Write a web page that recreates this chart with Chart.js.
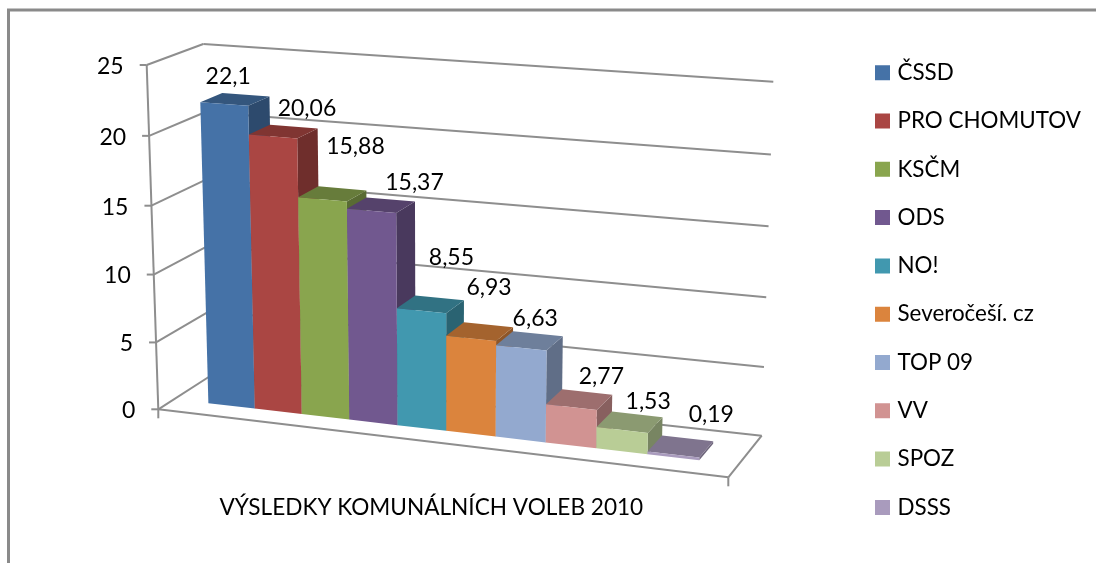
<!DOCTYPE html>
<html>
<head>
<meta charset="utf-8">
<title>Výsledky komunálních voleb 2010</title>
<script src="https://cdn.jsdelivr.net/npm/chart.js@4/dist/chart.umd.min.js"></script>
<style>
    html, body { margin: 0; padding: 0; background: #fff; }
    canvas { display: block; }
</style>
</head>
<body>
<canvas id="chart" width="1096" height="563"></canvas>
<script>
    'use strict';

    // Data
    var categories = ['VÝSLEDKY KOMUNÁLNÍCH VOLEB 2010'];
    var parties = ['ČSSD', 'PRO CHOMUTOV', 'KSČM', 'ODS', 'NO!', 'Severočeší. cz', 'TOP 09', 'VV', 'SPOZ', 'DSSS'];
    var partyValues = [22.1, 20.06, 15.88, 15.37, 8.55, 6.93, 6.63, 2.77, 1.53, 0.19];
    var partyColors = ['#4572A7', '#AA4643', '#89A54E', '#71588F', '#4198AF', '#DB843D', '#93A9CF', '#D19392', '#B9CD96', '#A99BBD'];
    var yAxisMax = 25;
    var yAxisStep = 5;

    // Hand placed value labels, relative to the top front edge of each bar
    var labelNudges = [[4, -27], [34, -28], [33, -53], [43, -28], [30, -53], [18, -51], [14, -29], [30, -30], [26, -28], [38, -40]];

    var FONT = 'Lato, sans-serif';
    var LINE_COLOR = '#8e8e8e';

    // Corners of the 3D box as Excel projected it: floor and ceiling, front and back
    var CAGE = {
        frontLeft: [[158.3, 409.3], [146.7, 65]],
        frontRight: [[728.3, 477.3], [738, 109]],
        backLeft: [[211, 375.5], [203.3, 44]],
        backRight: [[761.7, 435.7], [773.3, 81.7]]
    };
    var BAR_FRONT = 0.3;
    var BAR_BACK = 0.7;
    var WARP_U = 0.07;
    var WARP_V = 0.036;

    function lerp(a, b, t) {
        return [a[0] + (b[0] - a[0]) * t, a[1] + (b[1] - a[1]) * t];
    }

    /**
     * Map a position inside the box (each 0..1) to the page
     */
    function project(u, v, w) {
        var uu = u - WARP_U * u * (1 - u);
        var vv = v - WARP_V * v * (1 - v);
        var fl = lerp(CAGE.frontLeft[0], CAGE.frontLeft[1], vv);
        var fr = lerp(CAGE.frontRight[0], CAGE.frontRight[1], vv);
        var bl = lerp(CAGE.backLeft[0], CAGE.backLeft[1], vv);
        var br = lerp(CAGE.backRight[0], CAGE.backRight[1], vv);
        return lerp(lerp(fl, fr, uu), lerp(bl, br, uu), w);
    }

    function shade(hex, factor) {
        var n = parseInt(hex.slice(1), 16);
        var r = Math.round((n >> 16 & 255) * factor);
        var g = Math.round((n >> 8 & 255) * factor);
        var b = Math.round((n & 255) * factor);
        return 'rgb(' + r + ',' + g + ',' + b + ')';
    }

    function polygon(ctx, points, fill) {
        ctx.beginPath();
        ctx.moveTo(points[0][0], points[0][1]);
        for (var i = 1; i < points.length; i++) {
            ctx.lineTo(points[i][0], points[i][1]);
        }
        ctx.closePath();
        ctx.fillStyle = fill;
        ctx.fill();
    }

    function line(ctx, a, b) {
        ctx.beginPath();
        ctx.moveTo(a[0], a[1]);
        ctx.lineTo(b[0], b[1]);
        ctx.stroke();
    }

    /**
     * Outer frame, only the top and left sides show in the picture
     */
    function drawFrame(ctx) {
        ctx.strokeStyle = '#8a8a8a';
        ctx.lineWidth = 3;
        ctx.beginPath();
        ctx.moveTo(8.5, 563);
        ctx.lineTo(8.5, 10);
        ctx.lineTo(1096, 10);
        ctx.stroke();
    }

    /**
     * Gridlines, floor, ticks and axis labels
     */
    function drawCage(chart) {
        var ctx = chart.ctx;
        var yScale = chart.scales.y;
        var xScale = chart.scales.x;
        var area = chart.chartArea;

        ctx.strokeStyle = LINE_COLOR;
        ctx.lineWidth = 2;
        ctx.font = '23px ' + FONT;
        ctx.fillStyle = '#000';
        ctx.textAlign = 'right';
        ctx.textBaseline = 'middle';

        yScale.ticks.forEach(function(tick) {
            var v = (area.bottom - yScale.getPixelForValue(tick.value)) / area.height;
            var front = project(0, v, 0);
            var back = project(0, v, 1);
            line(ctx, front, back);
            line(ctx, back, project(1, v, 1));
            line(ctx, [front[0] - 7, front[1]], front);
            ctx.fillText(tick.label, front[0] - 23, front[1] + 1.5);
        });

        // Left axis, floor front edge and right floor edge
        line(ctx, project(0, 0, 0), CAGE.frontLeft[1]);
        line(ctx, project(0, 0, 0), project(1, 0, 0));
        line(ctx, project(1, 0, 0), project(1, 0, 1));
        line(ctx, project(0, 0, 0), [CAGE.frontLeft[0][0], CAGE.frontLeft[0][1] + 9]);
        line(ctx, project(1, 0, 0), [CAGE.frontRight[0][0], CAGE.frontRight[0][1] + 9]);

        // Category label
        var mid = project((xScale.getPixelForValue(0) - area.left) / area.width, 0, 0);
        ctx.font = '22.6px ' + FONT;
        ctx.textAlign = 'center';
        ctx.fillText(categories[0], mid[0] - 2, mid[1] + 66);
    }

    /**
     * One bar: front, top and right side
     */
    function drawBar(ctx, area, bar, color) {
        var u0 = (bar.x - bar.width / 2 - area.left) / area.width;
        var u1 = (bar.x + bar.width / 2 - area.left) / area.width;
        var v = (area.bottom - bar.y) / area.height;

        polygon(ctx, [project(u1, 0, BAR_FRONT), project(u1, 0, BAR_BACK), project(u1, v, BAR_BACK), project(u1, v, BAR_FRONT)], shade(color, 0.65));
        polygon(ctx, [project(u0, v, BAR_FRONT), project(u1, v, BAR_FRONT), project(u1, v, BAR_BACK), project(u0, v, BAR_BACK)], shade(color, 0.75));
        polygon(ctx, [project(u0, 0, BAR_FRONT), project(u1, 0, BAR_FRONT), project(u1, v, BAR_FRONT), project(u0, v, BAR_FRONT)], color);
    }

    /**
     * Draw the 3D scene from the bar elements the library laid out
     */
    var scene3d = {
        id: 'scene3d',
        afterLayout: function(chart) {
            // Legend sits a little further right than the library would put it
            var pad = chart.options.plugins.legend.labels.padding;
            chart.legend.left = 878.7 - pad;
            chart.legend.top = 35.6;
        },
        beforeDatasetsDraw: function(chart) {
            var ctx = chart.ctx;
            var area = chart.chartArea;

            ctx.save();
            drawFrame(ctx);
            drawCage(chart);

            partyValues.forEach(function(value, i) {
                var bar = chart.getDatasetMeta(i).data[0];
                drawBar(ctx, area, bar, partyColors[i]);
            });

            ctx.font = '23px ' + FONT;
            ctx.fillStyle = '#000';
            ctx.textAlign = 'center';
            ctx.textBaseline = 'middle';
            partyValues.forEach(function(value, i) {
                var bar = chart.getDatasetMeta(i).data[0];
                var v = (area.bottom - bar.y) / area.height;
                var pos = project((bar.x - area.left) / area.width, v, BAR_FRONT);
                var text = String(value).replace('.', ',');
                ctx.fillText(text, pos[0] + labelNudges[i][0], pos[1] + labelNudges[i][1]);
            });
            ctx.restore();

            return false;
        }
    };

    var datasets = parties.map(function(party, i) {
        return {
            label: party,
            data: [partyValues[i]],
            backgroundColor: partyColors[i],
            borderColor: partyColors[i],
            borderWidth: 7.4,
            categoryPercentage: 0.87,
            barPercentage: 1
        };
    });

    new Chart(document.getElementById('chart'), {
        type: 'bar',
        data: {
            labels: categories,
            datasets: datasets
        },
        options: {
            responsive: false,
            animation: false,
            events: [],
            scales: {
                x: { display: false },
                y: {
                    display: false,
                    min: 0,
                    max: yAxisMax,
                    ticks: { stepSize: yAxisStep }
                }
            },
            plugins: {
                tooltip: { enabled: false },
                legend: {
                    position: 'right',
                    align: 'start',
                    labels: {
                        boxWidth: 7.6,
                        boxHeight: 7.6,
                        padding: 25.9,
                        color: '#000',
                        font: { family: FONT, size: 22.4 }
                    }
                }
            }
        },
        plugins: [scene3d]
    });
</script>
</body>
</html>
